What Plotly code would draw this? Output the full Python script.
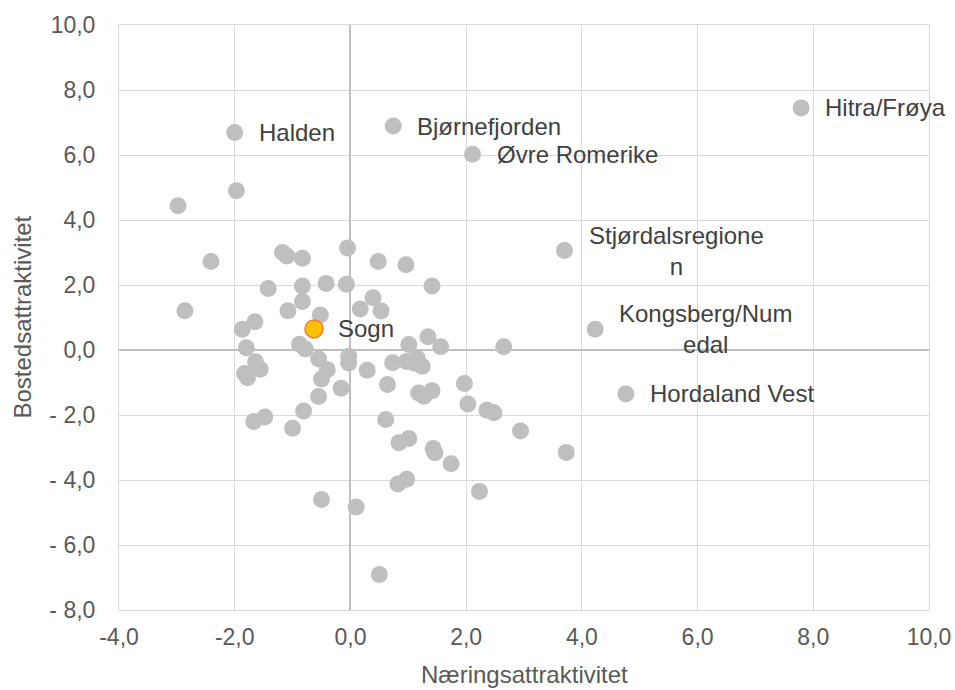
import plotly.graph_objects as go

# Regioner uten etikett
x_other = [-2.98, -1.97, -2.41, -1.175, -1.10, -0.83, -0.05, 0.48, 0.96, -2.86,
           -1.42, -0.83, -0.42, -0.07, 1.41, -0.83, -1.08, -0.52, 0.39, 0.17,
           0.53, -1.65, -1.87, 1.34, 1.56, 1.01, 2.65, -1.80, -0.88, -0.78,
           -0.03, -0.03, -0.55, -0.40, -0.50, -0.55, -0.16, 0.29, 0.73, 0.64,
           0.97, 1.15, 1.24, 1.10, -1.64, -1.56, -1.83, -1.78, -1.67, -1.48,
           -0.81, -1.00, 0.61, 0.84, 1.01, 1.43, 1.46, 1.74, 0.82, 0.97,
           2.23, -0.50, 0.10, 0.50, 1.18, 1.27, 1.41, 1.97, 2.03, 2.36,
           2.48, 2.94, 3.73]
y_other = [4.44, 4.90, 2.72, 3.00, 2.89, 2.82, 3.14, 2.72, 2.62, 1.21,
           1.89, 1.97, 2.05, 2.02, 1.97, 1.49, 1.21, 1.08, 1.61, 1.26,
           1.20, 0.87, 0.64, 0.41, 0.10, 0.17, 0.10, 0.07, 0.18, 0.03,
           -0.19, -0.40, -0.28, -0.61, -0.89, -1.43, -1.18, -0.62, -0.39, -1.06,
           -0.35, -0.25, -0.50, -0.40, -0.36, -0.59, -0.72, -0.85, -2.20, -2.06,
           -1.88, -2.41, -2.14, -2.85, -2.72, -3.03, -3.16, -3.50, -4.12, -3.98,
           -4.35, -4.60, -4.83, -6.91, -1.32, -1.42, -1.25, -1.03, -1.66, -1.85,
           -1.93, -2.49, -3.15]

# Regioner med etikett
names = ["Hitra/Frøya", "Halden", "Bjørnefjorden", "Øvre Romerike",
         "Stjørdalsregione<br>n", "Kongsberg/Num<br>edal", "Hordaland Vest"]
x_named = [7.79, -2.00, 0.74, 2.11, 3.70, 4.23, 4.76]
y_named = [7.45, 6.69, 6.89, 6.02, 3.06, 0.64, -1.35]

# Sogn (uthevet)
x_sogn = [-0.63]
y_sogn = [0.65]

x_ticks = [-4, -2, 0, 2, 4, 6, 8, 10]
x_ticktext = ["-4,0", "-2,0", "0,0", "2,0", "4,0", "6,0", "8,0", "10,0"]
y_ticks = [-8, -6, -4, -2, 0, 2, 4, 6, 8, 10]
y_ticktext = ["- 8,0", "- 6,0", "- 4,0", "- 2,0", "0,0", "2,0", "4,0", "6,0", "8,0", "10,0"]

FONT = "Liberation Sans, Arial, sans-serif"
GREY = "#bfbfbf"

fig = go.Figure()

fig.add_trace(go.Scatter(
    x=x_other + x_named, y=y_other + y_named,
    mode="markers",
    marker=dict(size=17, color=GREY),
    hoverinfo="x+y",
    showlegend=False
))

fig.add_trace(go.Scatter(
    x=x_sogn, y=y_sogn,
    mode="markers",
    marker=dict(size=18, color="#ffc000", line=dict(color="#ed7d31", width=1.5)),
    showlegend=False
))

# Etiketter
for name, xv, yv in zip(names + ["Sogn"], x_named + x_sogn, y_named + y_sogn):
    fig.add_annotation(
        x=xv, y=yv, text=name, showarrow=False,
        xanchor="left", yanchor="middle", align="center", xshift=22,
        font=dict(family=FONT, size=24, color="#404040")
    )

# Aksetitler
fig.add_annotation(
    x=0.5, y=0, xref="paper", yref="paper", text="Næringsattraktivitet",
    showarrow=False, xanchor="center", yanchor="top", yshift=-49,
    font=dict(family=FONT, size=24, color="#595959")
)
fig.add_annotation(
    x=0, y=0.5, xref="paper", yref="paper", text="Bostedsattraktivitet",
    showarrow=False, xanchor="center", yanchor="middle", xshift=-97, textangle=-90,
    font=dict(family=FONT, size=24, color="#595959")
)

fig.update_xaxes(
    range=[-4, 10], tickvals=x_ticks, ticktext=x_ticktext,
    showgrid=True, gridcolor="#d9d9d9", gridwidth=1,
    zeroline=True, zerolinecolor="#bfbfbf", zerolinewidth=1.5,
    showline=True, linecolor="#d9d9d9", mirror=True,
    tickfont=dict(family=FONT, size=23, color="#595959"),
    ticklabelstandoff=6, automargin=False
)
fig.update_yaxes(
    range=[-8, 10], tickvals=y_ticks, ticktext=y_ticktext,
    showgrid=True, gridcolor="#d9d9d9", gridwidth=1,
    zeroline=True, zerolinecolor="#bfbfbf", zerolinewidth=1.5,
    showline=True, linecolor="#d9d9d9", mirror=True,
    tickfont=dict(family=FONT, size=23, color="#595959"),
    ticklabelstandoff=18, automargin=False
)

fig.update_layout(
    width=955, height=690,
    margin=dict(l=119, r=26, t=25, b=80),
    plot_bgcolor="white", paper_bgcolor="white",
    font=dict(family=FONT)
)

# fjern standardmargen på <body> så figuren fyller hele vinduet
fig.write_html("out.html", config={"displayModeBar": False},
               post_script="document.body.style.margin='0';")
